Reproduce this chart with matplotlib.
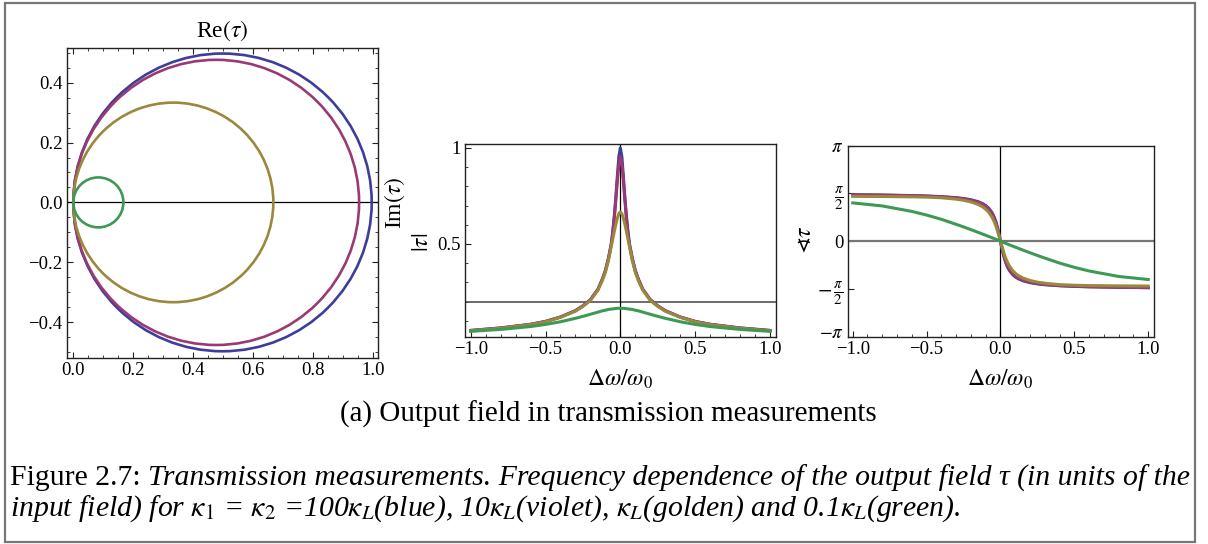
import matplotlib
matplotlib.use("Agg")
import matplotlib.pyplot as plt
from matplotlib.patches import Circle, Rectangle
from matplotlib.ticker import FixedLocator, MultipleLocator
from matplotlib.transforms import ScaledTranslation
import numpy as np

# ---------------- data ----------------
series_names = ["blue (100 kL)", "violet (10 kL)", "golden (kL)", "green (0.1 kL)"]
series_colors = ["#3d3d9c", "#9b3a72", "#9a883d", "#3d9a55"]

# diameters of the circles tau(Delta) in the complex plane
circle_diameters = [0.995, 0.953, 0.667, 0.167]

# detuning  Delta omega / omega_0
detuning = [-1.00, -0.80, -0.60, -0.50, -0.40, -0.30, -0.25, -0.20, -0.15, -0.12,
            -0.10, -0.08, -0.06, -0.05, -0.04, -0.03, -0.02, -0.01, 0.00, 0.01,
            0.02, 0.03, 0.04, 0.05, 0.06, 0.08, 0.10, 0.12, 0.15, 0.20,
            0.25, 0.30, 0.40, 0.50, 0.60, 0.80, 1.00]

# |tau|
abs_blue = [0.050, 0.063, 0.082, 0.097, 0.120, 0.153, 0.178, 0.210, 0.264, 0.318,
            0.362, 0.425, 0.505, 0.570, 0.650, 0.745, 0.855, 0.955, 1.000, 0.955,
            0.855, 0.745, 0.650, 0.570, 0.505, 0.425, 0.362, 0.318, 0.264, 0.210,
            0.178, 0.153, 0.120, 0.097, 0.082, 0.063, 0.050]
abs_violet = [0.049, 0.062, 0.081, 0.096, 0.119, 0.152, 0.177, 0.209, 0.263, 0.316,
              0.359, 0.420, 0.498, 0.560, 0.638, 0.730, 0.830, 0.915, 0.955, 0.915,
              0.830, 0.730, 0.638, 0.560, 0.498, 0.420, 0.359, 0.316, 0.263, 0.209,
              0.177, 0.152, 0.119, 0.096, 0.081, 0.062, 0.049]
abs_golden = [0.048, 0.061, 0.080, 0.095, 0.118, 0.150, 0.175, 0.206, 0.259, 0.310,
              0.352, 0.413, 0.490, 0.528, 0.567, 0.603, 0.635, 0.658, 0.667, 0.658,
              0.635, 0.603, 0.567, 0.528, 0.490, 0.413, 0.352, 0.310, 0.259, 0.206,
              0.175, 0.150, 0.118, 0.095, 0.080, 0.061, 0.048]
abs_green = [0.045, 0.055, 0.070, 0.081, 0.095, 0.113, 0.123, 0.134, 0.145, 0.152,
             0.155, 0.159, 0.161, 0.162, 0.163, 0.164, 0.165, 0.165, 0.165, 0.165,
             0.165, 0.164, 0.163, 0.162, 0.161, 0.159, 0.155, 0.152, 0.145, 0.134,
             0.123, 0.113, 0.095, 0.081, 0.070, 0.055, 0.045]

# arg(tau) in radians
arg_blue = [1.529, 1.518, 1.501, 1.487, 1.466, 1.432, 1.404, 1.364, 1.298, 1.234,
            1.173, 1.087, 0.960, 0.872, 0.761, 0.620, 0.444, 0.234, 0.000, -0.234,
            -0.444, -0.620, -0.761, -0.872, -0.960, -1.087, -1.173, -1.234, -1.298, -1.364,
            -1.404, -1.432, -1.466, -1.487, -1.501, -1.518, -1.529]
arg_violet = [1.526, 1.515, 1.496, 1.481, 1.459, 1.422, 1.393, 1.349, 1.279, 1.212,
              1.148, 1.058, 0.927, 0.838, 0.727, 0.588, 0.418, 0.219, 0.000, -0.219,
              -0.418, -0.588, -0.727, -0.838, -0.927, -1.058, -1.148, -1.212, -1.279, -1.349,
              -1.393, -1.422, -1.459, -1.481, -1.496, -1.515, -1.526]
arg_golden = [1.475, 1.470, 1.460, 1.450, 1.429, 1.383, 1.347, 1.293, 1.207, 1.127,
              1.053, 0.952, 0.811, 0.720, 0.612, 0.485, 0.337, 0.174, 0.000, -0.174,
              -0.337, -0.485, -0.612, -0.720, -0.811, -0.952, -1.053, -1.127, -1.207, -1.293,
              -1.347, -1.383, -1.429, -1.450, -1.460, -1.470, -1.475]
arg_green = [1.260, 1.160, 0.980, 0.860, 0.720, 0.555, 0.470, 0.380, 0.290, 0.232,
             0.195, 0.157, 0.120, 0.100, 0.080, 0.060, 0.040, 0.020, 0.000, -0.020,
             -0.040, -0.060, -0.080, -0.100, -0.120, -0.157, -0.195, -0.232, -0.290, -0.380,
             -0.470, -0.555, -0.720, -0.860, -0.980, -1.160, -1.260]

abs_series = [abs_blue, abs_violet, abs_golden, abs_green]
arg_series = [arg_blue, arg_violet, arg_golden, arg_green]

left_xticks = [0.0, 0.2, 0.4, 0.6, 0.8, 1.0]
left_yticks = [-0.4, -0.2, 0.0, 0.2, 0.4]
det_ticks = [-1.0, -0.5, 0.0, 0.5, 1.0]
abs_ticks = [0.5, 1.0]
abs_ticklabels = ["0.5", "1"]
arg_ticks = [-np.pi, -np.pi / 2, 0.0, np.pi / 2, np.pi]
arg_ticklabels = [r"$-\pi$", r"$-\,\frac{\pi}{2}$", "0", r"$\frac{\pi}{2}$", r"$\pi$"]
abs_axis_origin = 0.2

caption_sub = "(a) Output field in transmission measurements"
caption_head = "Figure 2.7: "
caption_line1 = "Transmission measurements. Frequency dependence of the output field \u03c4 (in units of the"
caption_line2 = (r"input field) for $\kappa_1$ = $\kappa_2$ =100$\kappa_L$(blue), 10$\kappa_L$(violet), "
                 r"$\kappa_L$(golden) and 0.1$\kappa_L$(green).")

# ---------------- figure ----------------
plt.rcParams["font.family"] = ["Liberation Serif", "DejaVu Serif", "DejaVu Sans"]
plt.rcParams["mathtext.fontset"] = "stix"
plt.rcParams["axes.unicode_minus"] = True

W, H = 1208, 544
fig = plt.figure(figsize=(W / 100, H / 100), dpi=100)
fig.patch.set_facecolor("white")

TICK_FS = 13.5
LABEL_FS = 17


def axes_px(l, t, r, b):
    return fig.add_axes([l / W, 1 - b / H, (r - l) / W, (b - t) / H])


def style_axes(ax, all_sides=False):
    for s in ax.spines.values():
        s.set_color("#222222")
        s.set_linewidth(1.0)
    ax.tick_params(which="both", direction="in", top=all_sides, right=all_sides,
                   labelsize=TICK_FS, color="#222222", pad=3)
    ax.tick_params(which="major", length=4.5, width=0.8)
    ax.tick_params(which="minor", length=2.5, width=0.6)


# ---- left: complex plane ----
ax1 = axes_px(66.7, 47.7, 377.7, 357.7)
for d, c in zip(circle_diameters, series_colors):
    ax1.add_patch(Circle((d / 2, 0.0), d / 2, fill=False, edgecolor=c, lw=1.9, zorder=3))
ax1.axhline(0.0, color="black", lw=0.9, zorder=2)
ax1.set_xlim(-0.022, 1.015)
ax1.set_ylim(-0.519, 0.517)
ax1.xaxis.set_major_locator(FixedLocator(left_xticks))
ax1.yaxis.set_major_locator(FixedLocator(left_yticks))
ax1.xaxis.set_minor_locator(MultipleLocator(0.05))
ax1.yaxis.set_minor_locator(MultipleLocator(0.05))
ax1.set_xticklabels([f"{v:.1f}" for v in left_xticks])
ax1.set_yticklabels([f"{v:.1f}".replace("-", "\u2212") for v in left_yticks])
style_axes(ax1, all_sides=True)
fig.text(222 / W, 1 - 31 / H, r"Re$(\tau)$", ha="center", va="center", fontsize=LABEL_FS)
fig.text(395 / W, 1 - 203 / H, r"Im$(\tau)$", ha="center", va="center", fontsize=LABEL_FS,
         rotation=90)

# ---- middle: |tau| ----
ax2 = axes_px(465, 144.3, 776, 337.3)
for ys, c in zip(abs_series, series_colors):
    ax2.plot(detuning, ys, color=c, lw=2.2, zorder=3, solid_joinstyle="round")
ax2.axhline(abs_axis_origin, color="#444444", lw=1.1, zorder=2)
ax2.axvline(0.0, color="black", lw=0.9, zorder=2)
ax2.set_xlim(-1.038, 1.04)
ax2.set_ylim(0.014, 1.019)
ax2.xaxis.set_major_locator(FixedLocator(det_ticks))
ax2.xaxis.set_minor_locator(MultipleLocator(0.1))
ax2.set_xticklabels([f"{v:.1f}".replace("-", "\u2212") for v in det_ticks])
ax2.yaxis.set_major_locator(FixedLocator(abs_ticks))
ax2.yaxis.set_minor_locator(MultipleLocator(0.1))
ax2.set_yticklabels(abs_ticklabels)
style_axes(ax2)
fig.text(423 / W, 1 - 242 / H, r"$|\tau|$", ha="center", va="center", fontsize=LABEL_FS,
         rotation=90)
fig.text(620 / W, 1 - 379 / H, r"$\Delta\omega/\omega_0$", ha="center", va="center",
         fontsize=LABEL_FS)

# ---- right: arg tau ----
ax3 = axes_px(847.7, 145.7, 1154, 336.7)
for ys, c in zip(arg_series, series_colors):
    ax3.plot(detuning, ys, color=c, lw=2.2, zorder=3, solid_joinstyle="round")
ax3.axhline(0.0, color="#777777", lw=1.6, zorder=2)
ax3.axvline(0.0, color="black", lw=0.9, zorder=2)
ax3.set_xlim(-1.034, 1.039)
ax3.set_ylim(-np.pi, np.pi)
ax3.xaxis.set_major_locator(FixedLocator(det_ticks))
ax3.xaxis.set_minor_locator(MultipleLocator(0.1))
ax3.set_xticklabels([f"{v:.1f}".replace("-", "\u2212") for v in det_ticks])
ax3.yaxis.set_major_locator(FixedLocator(arg_ticks))
ax3.set_yticklabels(arg_ticklabels)
style_axes(ax3)
ylbls = ax3.get_yticklabels()
for lbl in ylbls:
    if "frac" in lbl.get_text():
        lbl.set_fontsize(TICK_FS * 1.12)
# lift the bottom "-pi" label slightly so it clears the "-1.0" x label
ylbls[0].set_transform(ylbls[0].get_transform() + ScaledTranslation(0, 5 / 100, fig.dpi_scale_trans))
fig.text(805 / W, 1 - 240 / H, r"$\sphericalangle\tau$", ha="center", va="center",
         fontsize=LABEL_FS, rotation=90)
fig.text(1000 / W, 1 - 379 / H, r"$\Delta\omega/\omega_0$", ha="center", va="center",
         fontsize=LABEL_FS)

# ---- captions ----
renderer = fig.canvas.get_renderer()

t_sub = fig.text(608 / W, 1 - 414 / H, caption_sub, ha="center", va="center", fontsize=16)
w = t_sub.get_window_extent(renderer).width
t_sub.set_fontsize(16 * 537 / w)

x0 = 10
fs = 16
t_head = fig.text(x0 / W, 1 - 478 / H, caption_head, ha="left", va="center", fontsize=fs)
t_l1 = fig.text(0, 1 - 478 / H, caption_line1, ha="left", va="center", fontsize=fs,
                style="italic")
wh = t_head.get_window_extent(renderer).width
w1 = t_l1.get_window_extent(renderer).width
fs_new = fs * 1178 / (wh + w1)
t_head.set_fontsize(fs_new)
t_l1.set_fontsize(fs_new)
wh = t_head.get_window_extent(renderer).width
t_l1.set_x((x0 + wh) / W)
fig.text(x0 / W, 1 - 509 / H, caption_line2, ha="left", va="center", fontsize=fs_new,
         style="italic")

# ---- outer border ----
fig.add_artist(Rectangle((5 / W, 1 - 541.5 / H), (1194.5 - 5) / W, (541.5 - 2.5) / H,
                         transform=fig.transFigure, fill=False, edgecolor="#777777",
                         lw=1.6))

fig.savefig("out.png", dpi=100, facecolor="white")
